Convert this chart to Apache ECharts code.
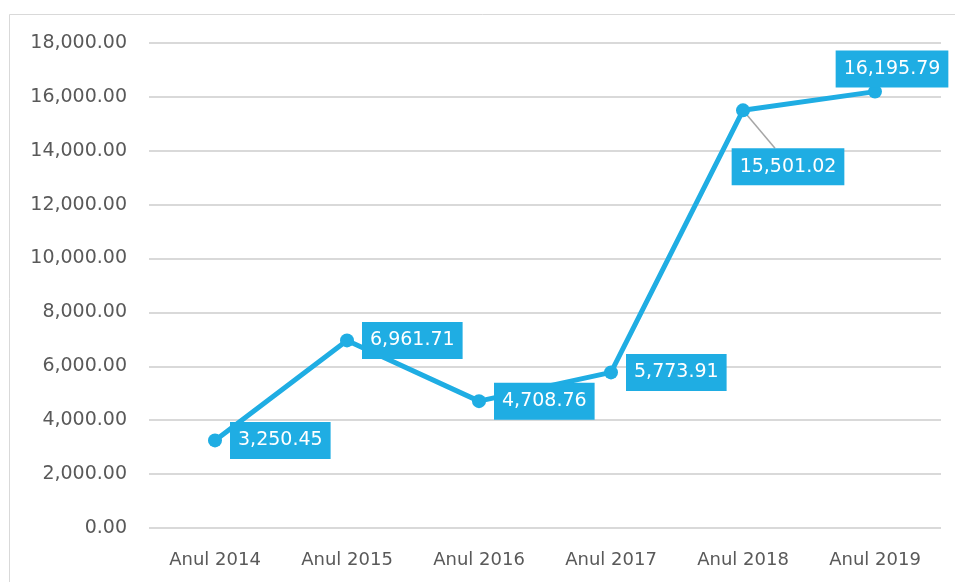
<!DOCTYPE html>
<html>
<head>
<meta charset="utf-8">
<script src="https://cdn.jsdelivr.net/npm/echarts@6/dist/echarts.min.js"></script>
<style>
  html, body { margin: 0; padding: 0; background: #fff; }
  #chart { width: 955px; height: 582px; }
</style>
</head>
<body>
<div id="chart"></div>
<script>
const years = ["Anul 2014", "Anul 2015", "Anul 2016", "Anul 2017", "Anul 2018", "Anul 2019"];
const values = [3250.45, 6961.71, 4708.76, 5773.91, 15501.02, 16195.79];

const blue = "#1fade3";
const font = "DejaVu Sans";
const fmt = (v) => v.toLocaleString("en-US", { minimumFractionDigits: 2, maximumFractionDigits: 2 });

// label placement per point, like the spreadsheet original
const labelPos = ["right", "right", "right", "right", "bottom", "top"];
const labelDist = [8, 8, 8, 8, 31, -3];
const labelShiftX = [0, 0, 0, 0, 45, 17];

const chart = echarts.init(document.getElementById("chart"));

chart.setOption({
  backgroundColor: "#fff",
  animation: false,
  grid: { left: 149, right: 14, top: 43, bottom: 54, containLabel: false },
  xAxis: {
    type: "category",
    data: years,
    boundaryGap: true,
    axisLine: { show: false },
    axisTick: { show: false },
    axisLabel: { color: "#595959", fontFamily: font, fontSize: 18, margin: 23 },
  },
  yAxis: {
    type: "value",
    min: 0,
    max: 18000,
    interval: 2000,
    axisLine: { show: false },
    axisTick: { show: false },
    splitLine: { lineStyle: { color: "#d9d9d9", width: 2 } },
    axisLabel: {
      color: "#595959",
      fontFamily: font,
      fontSize: 19,
      margin: 22,
      formatter: (v) => fmt(v),
    },
  },
  series: [
    {
      type: "line",
      data: values.map((v, i) => ({
        value: v,
        label: { position: labelPos[i], distance: labelDist[i] },
      })),
      symbol: "circle",
      symbolSize: 14,
      lineStyle: { color: blue, width: 5 },
      itemStyle: { color: blue },
      z: 3,
      label: {
        show: true,
        formatter: (p) => fmt(p.value),
        color: "#fff",
        backgroundColor: blue,
        fontFamily: font,
        fontSize: 19,
        padding: [9, 8, 9, 8],
      },
      labelLayout: (p) => ({ dx: labelShiftX[p.dataIndex] }),
    },
  ],
});

// outer frame and the leader line of the 2018 label
const pt = chart.convertToPixel({ seriesIndex: 0 }, [4, values[4]]);
chart.setOption({
  graphic: [
    {
      type: "rect",
      shape: { x: 9.5, y: 14.5, width: 960, height: 580 },
      style: { fill: "none", stroke: "#d9d9d9", lineWidth: 1 },
      silent: true,
    },
    {
      type: "line",
      shape: { x1: pt[0], y1: pt[1], x2: pt[0] + 32, y2: pt[1] + 38 },
      style: { stroke: "#a6a6a6", lineWidth: 1.5 },
      z: 2,
      silent: true,
    },
  ],
});
</script>
</body>
</html>
